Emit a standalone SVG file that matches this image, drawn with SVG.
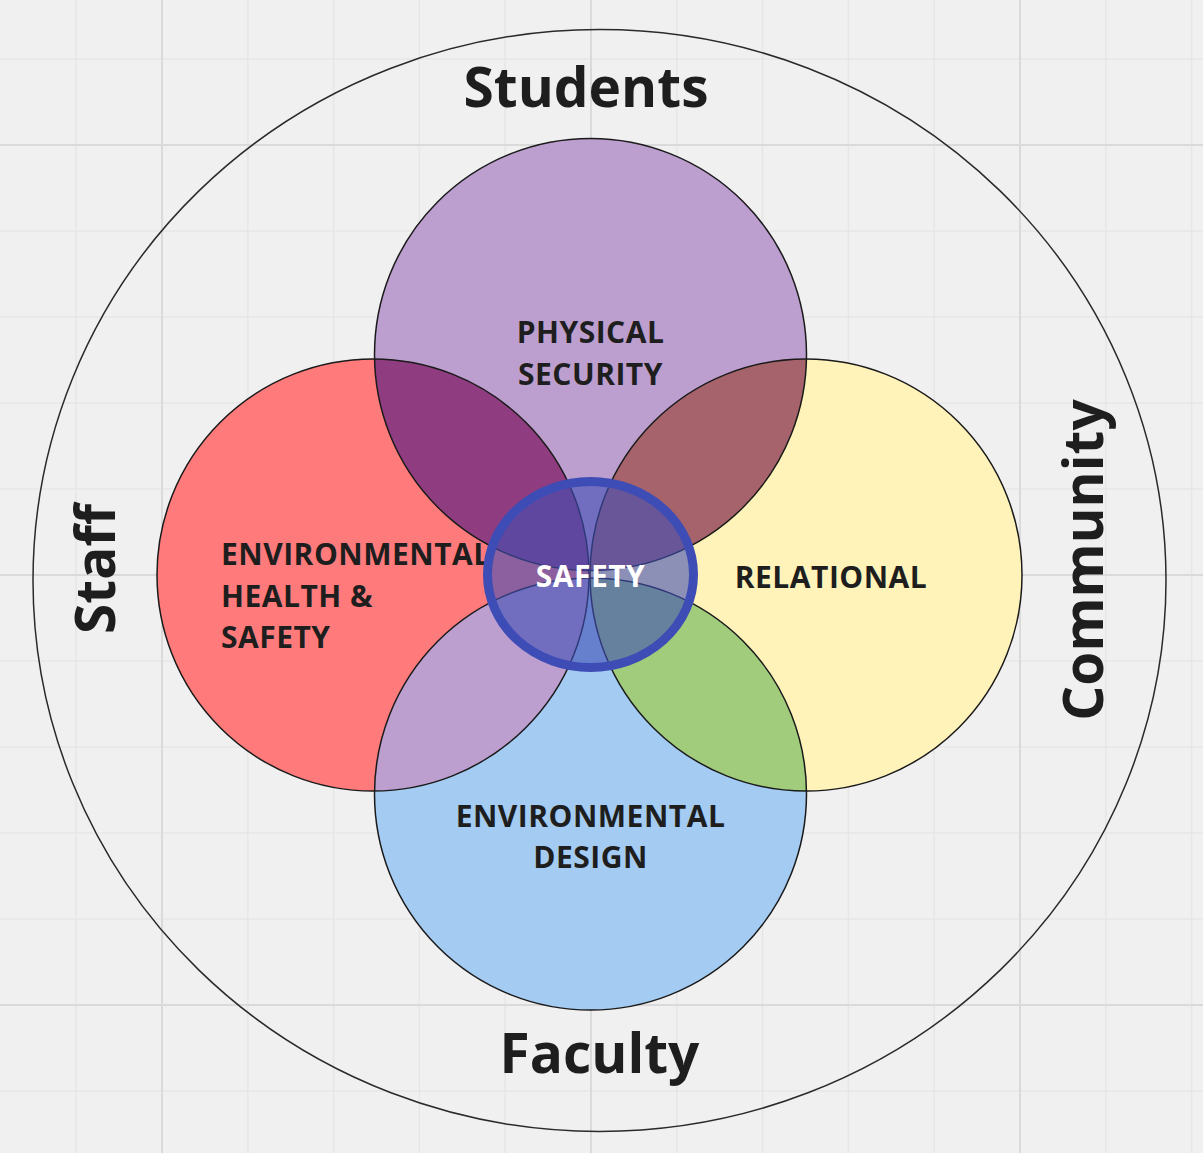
<svg xmlns="http://www.w3.org/2000/svg" width="1203" height="1153" viewBox="0 0 1203 1153">
  <style>
    .minor { stroke: #e6e6e6; stroke-width: 1.5; }
    .major { stroke: #dadada; stroke-width: 2; }
    .outline { fill: none; stroke: #1a1a1a; stroke-width: 1.5; }
    .big { font-family: "Open Sans", "Liberation Sans", sans-serif; font-weight: 700; font-size: 55px; fill: #1e1e1e; text-anchor: middle; }
    .lbl { font-family: "Open Sans", "Liberation Sans", sans-serif; font-weight: 700; font-size: 30px; fill: #1e1e1e; letter-spacing: 0.5px; }
    .mid { text-anchor: middle; }
  </style>
  <defs>
    <clipPath id="cpPurple"><circle cx="590.5" cy="354.5" r="216"/></clipPath>
    <clipPath id="cpBlue"><circle cx="590.5" cy="794" r="216"/></clipPath>
  </defs>

  <rect width="1203" height="1153" fill="#f0f0f0"/>

  <g id="grid">
    <path class="minor" d="M76.2 0V1153M247.8 0V1153M333.6 0V1153M419.4 0V1153M505.2 0V1153M676.8 0V1153M762.6 0V1153M848.4 0V1153M934.2 0V1153M1105.8 0V1153M1191.6 0V1153"/>
    <path class="minor" d="M0 59H1203M0 231H1203M0 317H1203M0 403H1203M0 489H1203M0 661H1203M0 747H1203M0 833H1203M0 919H1203M0 1091H1203"/>
    <path class="major" d="M162 0V1153M591 0V1153M1020 0V1153M0 145H1203M0 575H1203M0 1005H1203"/>
  </g>

  <g id="stakeholders">
    <ellipse cx="599.5" cy="580.5" rx="566.5" ry="551" fill="none" stroke="#2a2a2a" stroke-width="1.5"/>
  </g>

  <g id="physical-security">
    <circle cx="590.5" cy="354.5" r="216" fill="#bc9ecf"/>
  </g>
  <g id="environmental-health-safety">
    <circle cx="373" cy="575" r="216" fill="#ff7b7b"/>
  </g>
  <g id="relational">
    <circle cx="806" cy="575" r="216" fill="#fff3b9"/>
  </g>
  <g id="environmental-design">
    <circle cx="590.5" cy="794" r="216" fill="#a4cbf1"/>
  </g>

  <g id="overlaps">
    <circle cx="373" cy="575" r="216" fill="#8f3d80" clip-path="url(#cpPurple)"/>
    <circle cx="806" cy="575" r="216" fill="#a6636b" clip-path="url(#cpPurple)"/>
    <circle cx="373" cy="575" r="216" fill="#bc9ecf" clip-path="url(#cpBlue)"/>
    <circle cx="806" cy="575" r="216" fill="#a0cc7c" clip-path="url(#cpBlue)"/>
  </g>

  <g id="outlines">
    <circle class="outline" cx="590.5" cy="354.5" r="216"/>
    <circle class="outline" cx="373" cy="575" r="216"/>
    <circle class="outline" cx="806" cy="575" r="216"/>
    <circle class="outline" cx="590.5" cy="794" r="216"/>
  </g>

  <g id="labels">
    <text class="lbl mid" x="590.5" y="343">PHYSICAL</text>
    <text class="lbl mid" x="590.5" y="385">SECURITY</text>
    <text class="lbl" x="221" y="565">ENVIRONMENTAL</text>
    <text class="lbl" x="221" y="606.5">HEALTH &amp;</text>
    <text class="lbl" x="221" y="648">SAFETY</text>
    <text class="lbl mid" x="831" y="588">RELATIONAL</text>
    <text class="lbl mid" x="590.5" y="827">ENVIRONMENTAL</text>
    <text class="lbl mid" x="590.5" y="868">DESIGN</text>
  </g>

  <g id="safety">
    <ellipse cx="590.5" cy="574.5" rx="103" ry="93" fill="#3f4fb5" fill-opacity="0.6" stroke="#3d4db5" stroke-width="9"/>
    <text class="lbl mid" x="590.5" y="587" style="fill:#ffffff">SAFETY</text>
  </g>

  <g id="students"><text class="big" x="586" y="107">Students</text></g>
  <g id="faculty"><text class="big" x="599.5" y="1073">Faculty</text></g>
  <g id="staff"><text class="big" transform="translate(115 569) rotate(-90)">Staff</text></g>
  <g id="community"><text class="big" transform="translate(1103 560) rotate(-90)">Community</text></g>
</svg>
